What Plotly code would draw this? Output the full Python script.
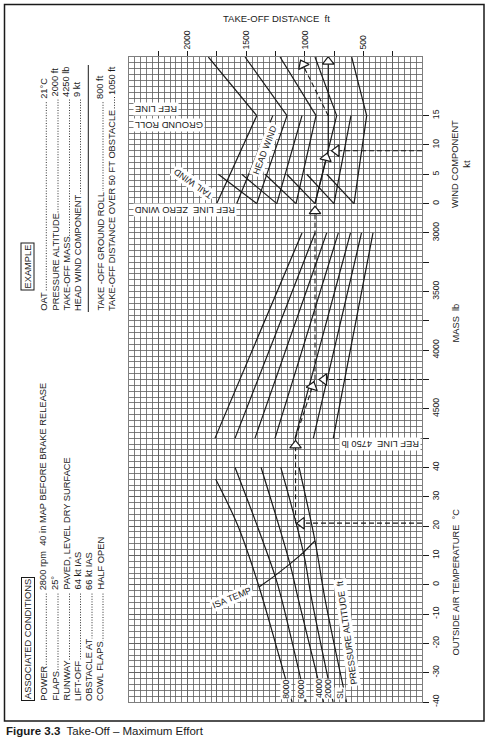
import plotly.graph_objects as go

# ---------------- values ----------------
DIST_TICKVALS = [250, 500, 750, 1000, 1250, 1500, 1750, 2000, 2250]
DIST_TICKTEXT = ["", "500", "", "1000", "", "1500", "", "2000", ""]
OAT_TICKS = [-40, -30, -20, -10, 0, 10, 20, 30, 40]
OAT_TICKTEXT = ["-40", "-30", "-20", "-10", "0", "10", "20", "30", "40"]
MASS_TICKVALS = [3000, 3250, 3500, 3750, 4000, 4250, 4500, 4750]
MASS_TICKTEXT = ["3000", "", "3500", "", "4000", "", "4500", ""]
WIND_TICKS = [0, 5, 10, 15]

# temperature panel: pressure altitude lines (OAT degC -> distance ft)
PA_NAMES = ["8000", "6000", "4000", "2000", "SL"]
PA_OAT = [[-40, -20, 0, 20, 36],
          [-40, -5, 3, 20, 40],
          [-40, -5, 7, 40],
          [-40, -5, 11, 40],
          [-40, -5, 15, 40]]
PA_DIST = [[1109, 1250, 1396, 1570, 1760],
           [989, 1197, 1254, 1405, 1595],
           [840, 1055, 1126, 1373],
           [759, 941, 1012, 1205],
           [644, 827, 913, 1049]]
ISA_OAT = [-0.8, 3.1, 7.1, 11.0, 15.0]
ISA_DIST = [1390, 1254, 1126, 1012, 913]

# mass panel guide lines
MASS_REF = 4750
MASS_LOW = 3000
MASS_REF_DIST = [1766, 1595, 1425, 1254, 1083, 927, 757]
MASS_LOW_DIST = [1024, 913, 813, 714, 610, 516, 418]

# wind panel guide lines
HW_ZERO_DIST = [1751, 1581, 1410, 1239, 1075, 913, 751, 580]
HW_15_DIST = [1410, 1273, 1152, 1024, 904, 728, 606, 472]
TW_ZERO_DIST = [1410, 1239, 1075, 913, 751, 580]
TW_5_DIST = [1738, 1538, 1339, 1154, 983, 813]
GR_REF_DIST = [1410, 1152, 904, 728, 472]
OBS_DIST = [1823, 1510, 1211, 913, 600]

# worked example
EX_OAT = 21
EX_PA_DIST = 1079
EX_MASS = 4250
EX_MASS_DIST = 913
EX_WIND = 9
EX_GROUND_ROLL = 800
EX_OBST_D = [800, 1005]
EX_OBST_W = [15, 23.2]

EXAMPLE_LABELS = ["OAT", "PRESSURE ALTITUDE", "TAKE-OFF MASS", "HEAD WIND COMPONENT",
                  "TAKE -OFF GROUND ROLL", "TAKE-OFF DISTANCE OVER 50 FT OBSTACLE"]
EXAMPLE_VALUES = ["21\u00b0C", "2000 ft", "4250 lb", "9 kt", "800 ft", "1050 ft"]
COND_LABELS = ["POWER", "FLAPS", "RUNWAY", "LIFT-OFF", "OBSTACLE AT", "COWL FLAPS"]
COND_VALUES = ["2800 rpm\u00a0\u00a040 in MAP BEFORE BRAKE RELEASE", "25\u00b0",
               "PAVED, LEVEL DRY SURFACE", "64 kt IAS", "66 kt IAS", "HALF OPEN"]

# ---------------- layout geometry ----------------
FIG_W, FIG_H = 490, 741
ML, MR, MT, MB = 129, 68, 57, 39
PW = FIG_W - ML - MR
PH = FIG_H - MT - MB


def px(xp):
    return (xp - ML) / PW


def py(yp):
    return (FIG_H - MB - yp) / PH


FONT = "Liberation Sans, Arial, sans-serif"
INK = "#1a1a1a"
GRID = "#5e5e5e"
FS = 9.3

fig = go.Figure()


def line(xs, ys, yaxis, dash="solid", width=1.2, shape="linear"):
    fig.add_trace(go.Scatter(x=xs, y=ys, yaxis=yaxis, mode="lines",
                             line=dict(color=INK, width=width, dash=dash, shape=shape),
                             hoverinfo="skip", showlegend=False))


def tri(x, y, yaxis, symbol, angle=0):
    fig.add_trace(go.Scatter(x=[x], y=[y], yaxis=yaxis, mode="markers",
                             marker=dict(symbol=symbol, size=10, angle=angle, color="white",
                                         line=dict(color=INK, width=1.2)),
                             hoverinfo="skip", showlegend=False))


# temperature panel
for d, t in zip(PA_DIST, PA_OAT):
    line(d, t, "y", shape="spline")
line(ISA_DIST, ISA_OAT, "y", width=1.1)

# mass panel
for d0, d1 in zip(MASS_REF_DIST, MASS_LOW_DIST):
    line([d0, d1], [MASS_REF, MASS_LOW], "y2")

# wind panel
for d0, d1 in zip(HW_ZERO_DIST, HW_15_DIST):
    line([d0, d1], [0, 15], "y3")
for d0, d1 in zip(TW_ZERO_DIST, TW_5_DIST):
    line([d0, d1], [0, 5], "y3")
for d0, d1 in zip(GR_REF_DIST, OBS_DIST):
    line([d0, d1], [15, 25], "y3")

# worked example path
DASH = "5px,3px"
line([0, 990], [EX_OAT, EX_OAT], "y", dash=DASH, width=1.1)
line([EX_PA_DIST, EX_PA_DIST], [EX_OAT, 50], "y", dash=DASH, width=1.1)
line([EX_PA_DIST, EX_MASS_DIST + 2], [MASS_REF, EX_MASS], "y2", dash=DASH, width=1.1)
line([0, 800], [EX_MASS, EX_MASS], "y2", dash=DASH, width=1.1)
line([EX_MASS_DIST, EX_MASS_DIST], [EX_MASS, 2750], "y2", dash=DASH, width=1.1)
line([EX_MASS_DIST, EX_GROUND_ROLL], [0, EX_WIND], "y3", width=1.2)
line([EX_GROUND_ROLL, EX_GROUND_ROLL], [EX_WIND, 24.2], "y3", width=1.2)
line([0, 715], [EX_WIND, EX_WIND], "y3", dash=DASH, width=1.1)
line(EX_OBST_D, EX_OBST_W, "y3", dash=DASH, width=1.1)

tri(1027, EX_OAT, "y", "triangle-left")
tri(EX_PA_DIST, 47.5, "y", "triangle-up")
tri(935, 4310, "y2", "triangle-up", 17)
tri(836, EX_MASS, "y2", "triangle-left")
tri(EX_MASS_DIST, -1.3, "y3", "triangle-up")
tri(818, 7.8, "y3", "triangle-up", 14)
tri(730, EX_WIND, "y3", "triangle-left")
tri(EX_GROUND_ROLL, 24.2, "y3", "triangle-up")
tri(1017, 23.7, "y3", "triangle-up", -26)

tickfont = dict(family=FONT, size=8.6, color=INK)
fig.update_layout(
    width=FIG_W, height=FIG_H,
    margin=dict(l=ML, r=MR, t=MT, b=MB, pad=0),
    paper_bgcolor="white", plot_bgcolor="white",
    font=dict(family=FONT, size=FS, color=INK),
    showlegend=False,
    xaxis=dict(range=[2500, 0], side="top", tickmode="array", tickvals=DIST_TICKVALS,
               ticktext=DIST_TICKTEXT, ticks="outside", ticklen=5, tickwidth=1,
               tickcolor=INK, tickangle=-90, tickfont=tickfont,
               showgrid=True, gridcolor=GRID, gridwidth=0.8,
               minor=dict(tickmode="array", tickvals=list(range(0, 2501, 50)),
                          showgrid=True, gridcolor=GRID, gridwidth=0.8, ticks=""),
               zeroline=False, showline=True, mirror=True, linecolor=GRID, linewidth=0.8,
               fixedrange=True),
    yaxis=dict(range=[-40, 180], side="right", tickmode="array", tickvals=OAT_TICKS,
               ticktext=OAT_TICKTEXT,
               ticks="outside", ticklen=6, tickwidth=1, tickcolor=INK, tickangle=-90,
               tickfont=tickfont, showgrid=True, gridcolor=GRID, gridwidth=0.8,
               minor=dict(tickmode="array", tickvals=list(range(-40, 181, 2)),
                          showgrid=True, gridcolor=GRID, gridwidth=0.8, ticks=""),
               zeroline=False, showline=True, mirror=True, linecolor=GRID, linewidth=0.8,
               fixedrange=True),
    yaxis2=dict(range=[7000, 1500], overlaying="y", side="right", anchor="x",
                tickmode="array", tickvals=MASS_TICKVALS, ticktext=MASS_TICKTEXT,
                ticks="outside", ticklen=6, tickwidth=1, tickcolor=INK, tickangle=-90,
                tickfont=tickfont, showgrid=False, zeroline=False, fixedrange=True),
    yaxis3=dict(range=[-85, 25], overlaying="y", side="right", anchor="x",
                tickmode="array", tickvals=WIND_TICKS, ticks="outside", ticklen=6,
                tickwidth=1, tickcolor=INK, tickangle=-90, tickfont=tickfont,
                showgrid=False, zeroline=False, fixedrange=True),
)

annotations = []
shapes = []


def ann(text, x, y, angle=0, size=FS, xanchor="center", yanchor="middle", bg=None,
        border=None, **kw):
    d = dict(text=text, x=px(x), y=py(y), xref="paper", yref="paper", showarrow=False,
             textangle=angle, xanchor=xanchor, yanchor=yanchor,
             font=dict(family=FONT, size=size, color=INK), borderpad=1)
    if bg:
        d["bgcolor"] = bg
    if border:
        d["bordercolor"] = border
        d["borderwidth"] = 1
    d.update(kw)
    annotations.append(d)


# axis titles
ann("TAKE-OFF DISTANCE\u00a0\u00a0ft", 276.7, 18, size=9.5)
ann("WIND COMPONENT<br>kt", 461, 164, angle=-90)
ann("MASS\u00a0\u00a0lb", 455.5, 323, angle=-90)
ann("OUTSIDE AIR TEMPERATURE\u00a0\u00a0\u00b0C", 455.5, 582, angle=-90)

# labels inside the chart
ann("ISA TEMP", 231.5, 597.5, angle=-23, bg="white", size=9)
PA_LABEL_X = [285.8, 300.8, 319.0, 328.3, 340.0]
PA_LABEL_Y = [689, 689, 689, 689, 694]
for name, lx, ly in zip(PA_NAMES, PA_LABEL_X, PA_LABEL_Y):
    ann(name, lx, ly, angle=-90, bg="white", size=8.6, borderpad=0)
ann("PRESSURE ALTITUDE\u00a0\u00a0ft", 347, 633, angle=-98, bg="white", size=9)
ann("REF LINE\u00a0\u00a04750 lb", 421, 444.5, angle=180, xanchor="right", bg="white")
ann("REF LINE\u00a0\u00a0ZERO WIND", 133, 210.5, angle=180, xanchor="left", bg="white")
ann("TAIL WIND", 193.3, 183.3, angle=-145, bg="white", size=9)
ann("HEAD WIND", 265, 150, angle=-69, bg="white", size=9)
ann("REF LINE", 133, 109.5, angle=180, xanchor="left", bg="white")
ann("GROUND ROLL", 133, 124.5, angle=180, xanchor="left", bg="white")

# example block
ann("EXAMPLE", 27, 266.5, angle=-90, border=INK)
EX_COL_X = [43.3, 55.0, 66.5, 77.5, 100.0, 111.5]
EX_VAL_Y = [100, 98, 98, 98, 100, 96]
for lab, val, cx, vy in zip(EXAMPLE_LABELS, EXAMPLE_VALUES, EX_COL_X, EX_VAL_Y):
    shapes.append(dict(type="line", xref="paper", yref="paper",
                       x0=px(cx + 3), x1=px(cx + 3), y0=py(306), y1=py(vy + 1),
                       line=dict(color=INK, width=0.9, dash="1px,1.6px")))
    ann(lab, cx, 312, angle=-90, yanchor="bottom", bg="white", borderpad=0)
    ann(val, cx, vy, angle=-90, yanchor="bottom", bg="white", borderpad=0)
shapes.append(dict(type="line", xref="paper", yref="paper", x0=px(88.3), x1=px(88.3),
                   y0=py(312), y1=py(65), line=dict(color=INK, width=1)))

# associated conditions block
ann("ASSOCIATED CONDITIONS", 27.5, 639.5, angle=-90, border=INK)
COND_COL_X = [43.3, 55.0, 66.5, 77.5, 89.0, 100.0]
for lab, val, cx in zip(COND_LABELS, COND_VALUES, COND_COL_X):
    shapes.append(dict(type="line", xref="paper", yref="paper",
                       x0=px(cx + 3), x1=px(cx + 3), y0=py(696), y1=py(592),
                       line=dict(color=INK, width=0.9, dash="1px,1.6px")))
    ann(lab, cx, 702, angle=-90, yanchor="bottom", bg="white", borderpad=0)
    ann(val, cx, 591, angle=-90, yanchor="bottom", bg="white", borderpad=0)

# caption
ann("<b>Figure 3.3</b>\u00a0 Take-Off \u2013 Maximum Effort", 4, 731, size=11.5,
    xanchor="left")

# outer frame
shapes.append(dict(type="rect", xref="paper", yref="paper", x0=px(4.5), x1=px(484),
                   y0=py(4.5), y1=py(721), line=dict(color=INK, width=1.5), layer="below"))

fig.update_layout(annotations=annotations, shapes=shapes)
fig.write_html("out.html", config=dict(displayModeBar=False, staticPlot=True))
